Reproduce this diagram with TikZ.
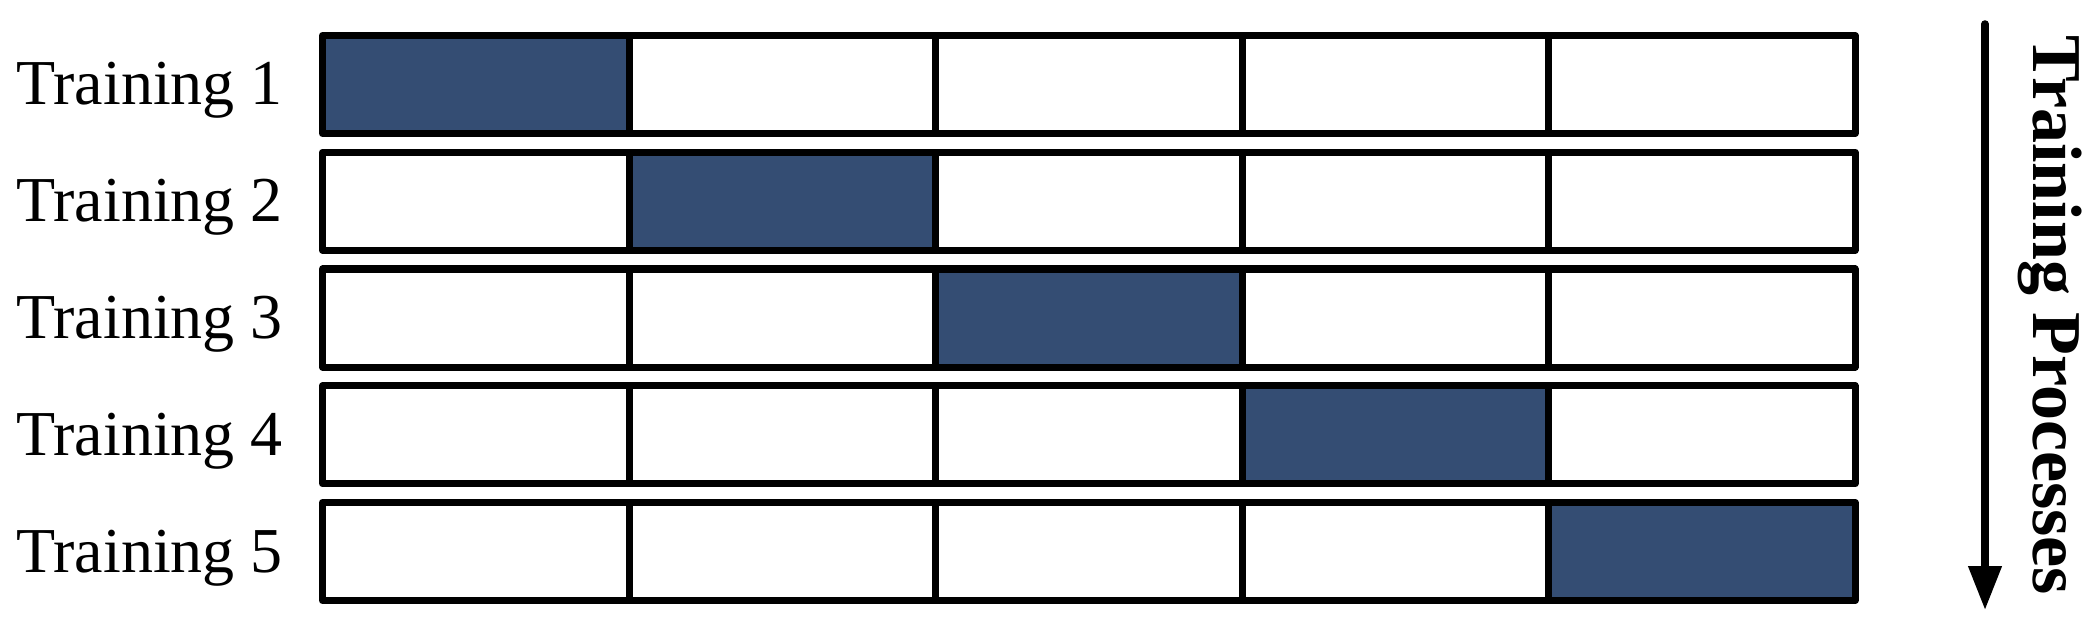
\documentclass[tikz,border=0pt]{standalone}
\usepackage{fontspec}
\setmainfont{Liberation Serif}
\usetikzlibrary{arrows.meta}
\definecolor{cellblue}{RGB}{52,77,115}
\begin{document}
\begin{tikzpicture}[x=1pt,y=-1pt,
  cell/.style={draw=black, line width=7pt, line join=round, fill=white, minimum width=306.5pt, minimum height=98pt, inner sep=0pt, outer sep=0pt},
  hot/.style={cell, fill=cellblue},
  lbl/.style={anchor=base east, inner sep=0pt, font=\fontsize{64}{70}\selectfont},
  ttl/.style={rotate=-90, anchor=base, inner sep=0pt, font=\fontsize{70}{76}\selectfont\bfseries}]
\useasboundingbox (0,0) rectangle (2092,620);
\foreach \r in {1,...,5}{
  \pgfmathsetmacro{\yc}{84.5+116.75*(\r-1)}
  \foreach \c in {1,...,5}{
    \pgfmathsetmacro{\xc}{322.5+306.5*(\c-1)+153.25}
    \ifnum\r=\c
      \node[hot] (c\r\c) at (\xc,\yc) {};
    \else
      \node[cell] (c\r\c) at (\xc,\yc) {};
    \fi
  }
  \node[lbl] (l\r) at (283,\yc+20.5) {Training \r};
}
\coordinate (as) at (1985,24);
\coordinate (ae) at (1985,610);
\draw[line width=7.5pt, line cap=round, -{Triangle[length=44pt,width=32pt]}] (as) -- (ae);
\node[ttl] (t) at (2033,315.5) {Training Processes};
\end{tikzpicture}
\end{document}
